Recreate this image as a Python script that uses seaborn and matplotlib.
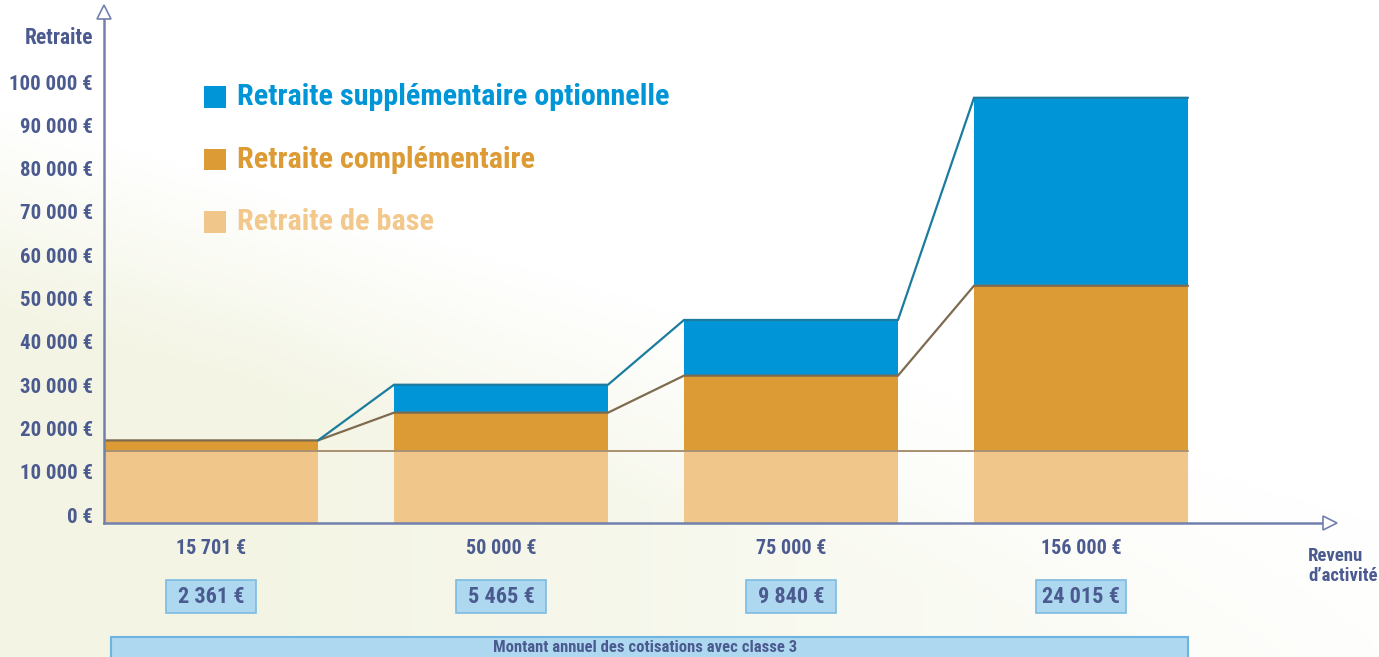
import numpy as np
import matplotlib
matplotlib.use('Agg')
import matplotlib.pyplot as plt
import matplotlib.transforms as mtransforms
from matplotlib import font_manager
from matplotlib.patches import Rectangle
import seaborn as sns

# Données
categories = ['15 701 €', '50 000 €', '75 000 €', '156 000 €']
retraite_base = [16500, 16500, 16500, 16500]
retraite_compl = [2500, 8900, 17450, 38200]
retraite_supp = [0, 6450, 12850, 43400]
cotisations = ['2 361 €', '5 465 €', '9 840 €', '24 015 €']
yticks = list(range(0, 100001, 10000))

base = np.array(retraite_base)
niveau_compl = base + np.array(retraite_compl)
niveau_total = niveau_compl + np.array(retraite_supp)

BLEU = '#0095D6'
ORANGE = '#DC9B34'
SABLE = '#F1C68B'
MARINE = '#4B5B8F'
AXE = '#7280AE'

sns.set_style('white')

# police étroite (Helvetica Condensed dans l'original)
k = 1.0
try:
    font_manager.findfont(font_manager.FontProperties(family='Roboto Condensed', weight='bold'),
                          fallback_to_default=False)
except ValueError:
    k = 0.78
plt.rcParams['font.family'] = ['Roboto Condensed', 'PT Sans Narrow', 'DejaVu Sans']
plt.rcParams['font.weight'] = 'bold'


def txt(obj, x, y, s, size, **kw):
    return obj.text(x, y, s, fontsize=size * k, fontweight='bold', **kw)


fig = plt.figure(figsize=(13.79, 6.57), dpi=100)

# fond légèrement crème en bas à gauche
bg = fig.add_axes([0, 0, 1, 1], zorder=-10)
px, py = np.meshgrid(np.linspace(0, 1379, 300), np.linspace(0, 657, 150))
g = np.clip((py - 110 - 0.3 * px) / 200, 0, 1) * np.clip(1.2 - px / 1300, 0, 1)
creme = np.array([0.955, 0.96, 0.895])
img = 1 - (1 - creme) * g[..., None]
bg.imshow(img, aspect='auto', extent=[0, 1, 0, 1], origin='upper')
bg.axis('off')

ax = fig.add_axes([104 / 1379, 1 - 522.7 / 657, (1330 - 104) / 1379, 510.7 / 657])
ax.patch.set_alpha(0)

w = 214 / 290
sns.barplot(x=categories, y=niveau_total, order=categories, color=BLEU, width=w,
            saturation=1, linewidth=0, ax=ax, zorder=2)
sns.barplot(x=categories, y=niveau_compl, order=categories, color=ORANGE, width=w,
            saturation=1, linewidth=0, ax=ax, zorder=3)
sns.barplot(x=categories, y=base, order=categories, color=SABLE, width=w,
            saturation=1, linewidth=0, ax=ax, zorder=4)

pos = np.arange(len(categories))
# lignes de liaison entre les barres
xs_c, ys_c, xs_t, ys_t = [], [], [], []
for i, p in enumerate(pos):
    xs_c += [p - w / 2, p + w / 2]
    ys_c += [niveau_compl[i], niveau_compl[i]]
    if i > 0:
        xs_t.append(p - w / 2)
        ys_t.append(niveau_total[i])
    xs_t.append(p + w / 2)
    ys_t.append(niveau_total[i])
ax.plot(xs_c, ys_c, color='#7F6B4F', lw=1.6, zorder=6, solid_joinstyle='miter')
ax.plot(xs_t, ys_t, color='#1B7C9E', lw=1.6, zorder=7, solid_joinstyle='miter')
ax.plot([pos[0] - w / 2, pos[-1] + w / 2], [base[0], base[0]], color='#A99070',
        lw=1.4, zorder=5)

ax.set_xlim(-107 / 290, -107 / 290 + 1226 / 290)
ax.set_ylim(0, 117900)

# axes
sns.despine(ax=ax)
for s in ['left', 'bottom']:
    ax.spines[s].set_color(AXE)
    ax.spines[s].set_linewidth(1.8)
    ax.spines[s].set_zorder(8)
ax.plot(0, 1, marker='^', ms=10, mfc='white', mec=AXE, mew=1.2,
        transform=ax.transAxes, clip_on=False, zorder=9)
ax.plot(1, 0, marker='>', ms=10, mfc='white', mec=AXE, mew=1.2,
        transform=ax.transAxes, clip_on=False, zorder=9)

# graduations
ax.set_yticks(yticks)
ax.set_yticklabels([f'{v:,} €'.replace(',', ' ') for v in yticks])
ax.tick_params(axis='y', length=0, pad=8, labelsize=15 * k, labelcolor=MARINE)
decal = mtransforms.ScaledTranslation(0, 7.5 / 100, fig.dpi_scale_trans)
for lab in ax.get_yticklabels():
    lab.set_transform(lab.get_transform() + decal)
    lab.set_fontweight('bold')

ax.set_xticks(pos)
ax.set_xticklabels(categories)
ax.tick_params(axis='x', length=0, pad=12, labelsize=14.5 * k, labelcolor=MARINE)
for lab in ax.get_xticklabels():
    lab.set_fontweight('bold')
ax.set_xlabel('')
ax.set_ylabel('')

txt(fig, 93 / 1379, 1 - 38 / 657, 'Retraite', 15.5, ha='right', va='center', color=MARINE)
txt(fig, 1308 / 1379, 1 - 566 / 657, 'Revenu\nd\u2019activité', 13.5, ha='left',
    va='center', color=MARINE, linespacing=1.2)

# légende
legende = [('Retraite supplémentaire optionnelle', BLEU, BLEU),
           ('Retraite complémentaire', ORANGE, ORANGE),
           ('Retraite de base', SABLE, '#F2C88C')]
for j, (s, c, ct) in enumerate(legende):
    yc = 97 + j * 62.5
    fig.patches.append(Rectangle((204 / 1379, 1 - (yc + 10.5) / 657), 22 / 1379, 21 / 657,
                                 transform=fig.transFigure, color=c, lw=0))
    txt(fig, 237 / 1379, 1 - yc / 657, s, 21.7, ha='left', va='center', color=ct)

# montants des cotisations
tx = mtransforms.blended_transform_factory(ax.transData, fig.transFigure)
bw = 90 / 290
for p, s in zip(pos, cotisations):
    ax.add_patch(Rectangle((p - bw / 2, 1 - 613 / 657), bw, 33 / 657, transform=tx,
                           facecolor='#AED8F0', edgecolor='#7DBBE0', lw=1.2, clip_on=False))
    txt(ax, p, 1 - 597 / 657, s, 16, transform=tx, ha='center', va='center', color=MARINE)

fig.patches.append(Rectangle((111 / 1379, -0.02), (1188 - 111) / 1379, 1 - 636.7 / 657 + 0.02,
                             transform=fig.transFigure, facecolor='#AED8F0',
                             edgecolor='#6DB5E0', lw=1.5))
txt(fig, 645 / 1379, 1 - 648 / 657, 'Montant annuel des cotisations avec classe 3', 12,
    ha='center', va='center', color=MARINE)

fig.savefig('out.png', dpi=100)
